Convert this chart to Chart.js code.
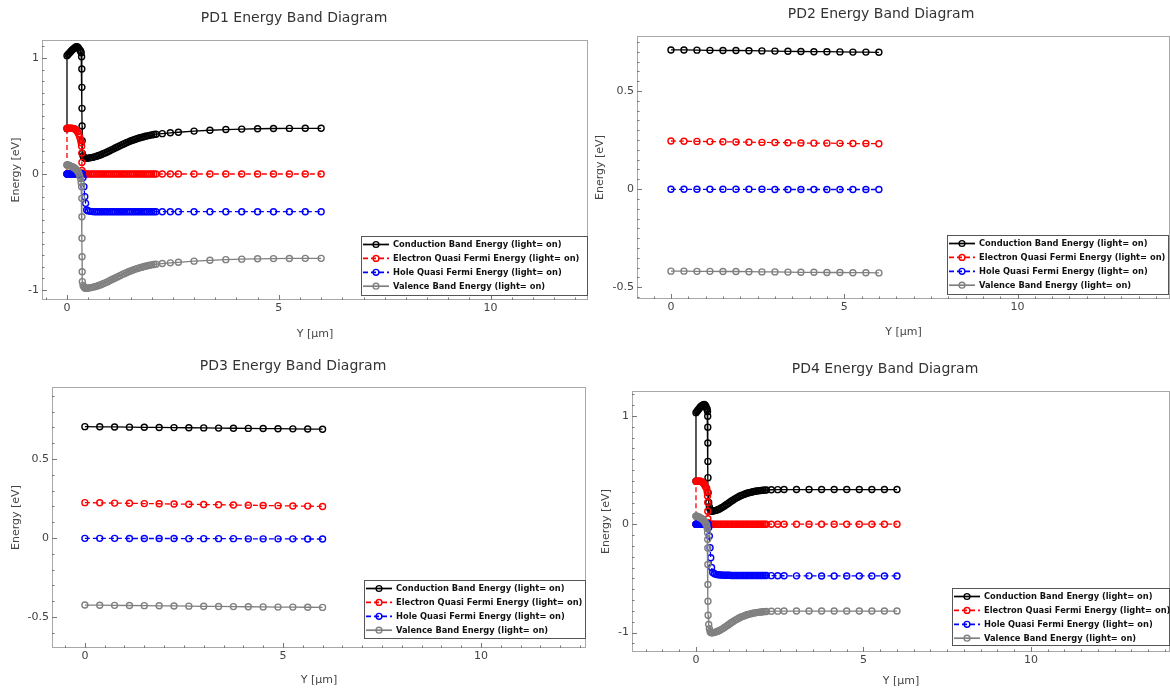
<!DOCTYPE html>
<html>
<head>
<meta charset="utf-8">
<title>PD Energy Band Diagrams</title>
<script src="https://cdn.jsdelivr.net/npm/chart.js@4.4.1/dist/chart.umd.min.js"></script>
<style>
  body { margin: 0; background: #fff; }
  #wrap { position: relative; width: 1170px; height: 688px; overflow: hidden; }
  canvas { position: absolute; }
</style>
</head>
<body>
<div id="wrap">
  <canvas id="pd1" width="592" height="344" style="left:0;top:0"></canvas>
  <canvas id="pd2" width="578" height="344" style="left:592px;top:0"></canvas>
  <canvas id="pd3" width="592" height="344" style="left:0;top:344px"></canvas>
  <canvas id="pd4" width="570" height="344" style="left:600px;top:344px"></canvas>
</div>
<script>
// ===== data =====
const seriesNames = [
  "Conduction Band Energy (light= on)",
  "Electron Quasi Fermi Energy (light= on)",
  "Hole Quasi Fermi Energy (light= on)",
  "Valence Band Energy (light= on)",
];

const xTickLabels = [0, 5, 10];
const yTickLabelsWide = [-1, 0, 1];
const yTickLabelsNarrow = [-0.5, 0, 0.5];

// mesh positions (um) for PD1 / PD4 (fine near the junction)
const meshY = [
  0, 0, 0.025, 0.05, 0.075, 0.1, 0.125, 0.15, 0.175, 0.2, 0.225, 0.25, 0.275, 0.3, 0.32, 0.335, 0.345,
  0.35, 0.352, 0.354, 0.356, 0.358, 0.362,
  0.38, 0.4, 0.42, 0.44, 0.465, 0.5, 0.55,
  0.6, 0.65, 0.7, 0.75, 0.8, 0.85, 0.9, 0.95, 1.0, 1.05, 1.1, 1.15, 1.2, 1.25, 1.3, 1.35,
  1.4, 1.45, 1.5, 1.55, 1.6, 1.65, 1.7, 1.75, 1.8, 1.85, 1.9, 1.95, 2.0, 2.05, 2.1,
  2.25, 2.44, 2.63, 3.0, 3.375, 3.75, 4.125, 4.5, 4.875, 5.25, 5.625, 6.0,
];

const pd1Ec = [
  0.39, 1.02, 1.03, 1.04, 1.05, 1.06, 1.07, 1.078, 1.085, 1.092, 1.097, 1.095, 1.085, 1.07, 1.06, 1.045, 1.01,
  0.905, 0.747, 0.566, 0.414, 0.287, 0.178,
  0.155, 0.142, 0.137, 0.135, 0.135, 0.137, 0.14,
  0.143, 0.148, 0.153, 0.159, 0.166, 0.174, 0.182, 0.19, 0.199, 0.208, 0.217, 0.226, 0.235, 0.244, 0.253, 0.261,
  0.269, 0.277, 0.284, 0.291, 0.298, 0.304, 0.31, 0.315, 0.32, 0.325, 0.329, 0.333, 0.337, 0.34, 0.343,
  0.348, 0.355, 0.36, 0.37, 0.377, 0.383, 0.387, 0.39, 0.392, 0.393, 0.394, 0.394,
];
const pd1Efn = [
  0, 0.394, 0.395, 0.395, 0.395, 0.394, 0.393, 0.392, 0.39, 0.385, 0.375, 0.362, 0.345, 0.32, 0.295, 0.27, 0.24,
  0.18, 0.1, 0.03, 0.01, 0.003, 0,
  0, 0, 0, 0, 0, 0, 0,
  0, 0, 0, 0, 0, 0, 0, 0, 0, 0, 0, 0, 0, 0, 0, 0,
  0, 0, 0, 0, 0, 0, 0, 0, 0, 0, 0, 0, 0, 0, 0,
  0, 0, 0, 0, 0, 0, 0, 0, 0, 0, 0, 0,
];
const pd1Efp = [
  0, 0, 0, 0, 0, 0, 0, 0, 0, 0, 0, 0, 0, 0, 0, 0, 0,
  0, 0, 0, 0, 0, -0.005,
  -0.03, -0.109, -0.195, -0.253, -0.31, -0.318, -0.322,
  -0.324, -0.325, -0.325, -0.325, -0.325, -0.325, -0.325, -0.325, -0.325, -0.325, -0.325, -0.325, -0.325, -0.325, -0.325, -0.325,
  -0.325, -0.325, -0.325, -0.325, -0.325, -0.325, -0.325, -0.325, -0.325, -0.325, -0.325, -0.325, -0.325, -0.325, -0.325,
  -0.325, -0.325, -0.325, -0.325, -0.325, -0.325, -0.325, -0.325, -0.325, -0.325, -0.325, -0.325,
];
const pd1Ev = [
  0.078, 0.078, 0.077, 0.074, 0.07, 0.066, 0.062, 0.058, 0.052, 0.045, 0.036, 0.025, 0.01, -0.015, -0.04, -0.075, -0.11,
  -0.21, -0.368, -0.554, -0.713, -0.842, -0.928,
  -0.96, -0.975, -0.982, -0.985, -0.985, -0.983, -0.98,
  -0.977, -0.972, -0.967, -0.961, -0.954, -0.946, -0.938, -0.93, -0.921, -0.912, -0.903, -0.894, -0.885, -0.876, -0.867, -0.859,
  -0.851, -0.843, -0.836, -0.829, -0.822, -0.816, -0.81, -0.805, -0.8, -0.795, -0.791, -0.787, -0.783, -0.78, -0.777,
  -0.772, -0.766, -0.761, -0.751, -0.744, -0.738, -0.734, -0.731, -0.729, -0.728, -0.727, -0.727,
];

const pd4Ec = [
  0.397, 1.03, 1.04, 1.05, 1.06, 1.07, 1.08, 1.088, 1.095, 1.1, 1.104, 1.105, 1.1, 1.085, 1.068, 1.06, 1.04,
  0.997, 0.896, 0.75, 0.58, 0.43, 0.29,
  0.2, 0.16, 0.135, 0.124, 0.12, 0.121, 0.124,
  0.128, 0.134, 0.141, 0.149, 0.158, 0.168, 0.179, 0.19, 0.201, 0.212, 0.222, 0.232, 0.241, 0.25, 0.258, 0.265,
  0.271, 0.277, 0.283, 0.288, 0.292, 0.296, 0.3, 0.303, 0.306, 0.308, 0.31, 0.312, 0.314, 0.315, 0.316,
  0.318, 0.319, 0.32, 0.32, 0.32, 0.32, 0.32, 0.32, 0.32, 0.32, 0.32, 0.32,
];
const pd4Efn = [
  0, 0.397, 0.398, 0.398, 0.398, 0.397, 0.396, 0.394, 0.391, 0.386, 0.378, 0.366, 0.352, 0.34, 0.33, 0.3, 0.26,
  0.2, 0.12, 0.05, 0.015, 0.005, 0.001,
  0, 0, 0, 0, 0, 0, 0,
  0, 0, 0, 0, 0, 0, 0, 0, 0, 0, 0, 0, 0, 0, 0, 0,
  0, 0, 0, 0, 0, 0, 0, 0, 0, 0, 0, 0, 0, 0, 0,
  0, 0, 0, 0, 0, 0, 0, 0, 0, 0, 0, 0,
];
const pd4Efp = [
  0, 0, 0, 0, 0, 0, 0, 0, 0, 0, 0, 0, 0, 0, 0, 0, 0,
  0, 0, 0, 0, 0, -0.005,
  -0.03, -0.11, -0.218, -0.31, -0.4, -0.445, -0.458,
  -0.463, -0.466, -0.468, -0.469, -0.47, -0.471, -0.471, -0.472, -0.472, -0.473, -0.473, -0.473, -0.473, -0.474, -0.474, -0.474,
  -0.474, -0.474, -0.474, -0.474, -0.474, -0.474, -0.474, -0.474, -0.474, -0.474, -0.474, -0.474, -0.474, -0.474, -0.474,
  -0.475, -0.476, -0.476, -0.477, -0.477, -0.478, -0.478, -0.478, -0.478, -0.478, -0.478, -0.478,
];
const pd4Ev = [
  0.074, 0.074, 0.073, 0.071, 0.068, 0.064, 0.06, 0.056, 0.05, 0.046, 0.04, 0.03, 0.016, 0.002, -0.01, -0.04, -0.08,
  -0.14, -0.22, -0.372, -0.557, -0.711, -0.84,
  -0.926, -0.965, -0.99, -1.0, -1.003, -1.002, -0.999,
  -0.994, -0.988, -0.981, -0.973, -0.964, -0.954, -0.943, -0.932, -0.921, -0.91, -0.9, -0.89, -0.881, -0.872, -0.864, -0.857,
  -0.851, -0.845, -0.839, -0.834, -0.83, -0.826, -0.822, -0.819, -0.816, -0.814, -0.812, -0.81, -0.808, -0.807, -0.806,
  -0.804, -0.803, -0.802, -0.802, -0.802, -0.802, -0.802, -0.802, -0.802, -0.802, -0.802, -0.802,
];

// coarse mesh for PD2 / PD3
const coarseY = [0, 0.375, 0.75, 1.125, 1.5, 1.875, 2.25, 2.625, 3.0, 3.375, 3.75, 4.125, 4.5, 4.875, 5.25, 5.625, 6.0];

const pd2Ec  = [0.709, 0.709, 0.708, 0.707, 0.706, 0.706, 0.705, 0.704, 0.703, 0.702, 0.701, 0.7, 0.7, 0.699, 0.698, 0.698, 0.697];
const pd2Efn = [0.245, 0.244, 0.243, 0.242, 0.241, 0.24, 0.239, 0.238, 0.237, 0.236, 0.235, 0.234, 0.234, 0.233, 0.232, 0.232, 0.231];
const pd2Efp = [-0.001, -0.001, -0.001, -0.001, -0.001, -0.001, -0.001, -0.001, -0.002, -0.002, -0.002, -0.002, -0.002, -0.002, -0.002, -0.002, -0.002];
const pd2Ev  = [-0.418, -0.418, -0.419, -0.419, -0.42, -0.42, -0.421, -0.422, -0.422, -0.423, -0.424, -0.424, -0.425, -0.425, -0.426, -0.426, -0.427];

const pd3Ec  = [0.705, 0.704, 0.703, 0.702, 0.701, 0.7, 0.699, 0.698, 0.697, 0.696, 0.695, 0.694, 0.693, 0.692, 0.691, 0.69, 0.689];
const pd3Efn = [0.224, 0.223, 0.221, 0.22, 0.218, 0.217, 0.215, 0.214, 0.212, 0.211, 0.209, 0.208, 0.206, 0.205, 0.203, 0.202, 0.2];
const pd3Efp = [-0.002, -0.002, -0.002, -0.003, -0.003, -0.003, -0.003, -0.004, -0.004, -0.004, -0.004, -0.005, -0.005, -0.005, -0.005, -0.006, -0.006];
const pd3Ev  = [-0.424, -0.425, -0.426, -0.427, -0.428, -0.429, -0.43, -0.431, -0.432, -0.433, -0.434, -0.435, -0.436, -0.437, -0.437, -0.438, -0.439];

// ===== styles =====
const seriesStyle = [
  { color: "#000000", dash: [] },
  { color: "#ff0000", dash: [5, 3] },
  { color: "#0000ff", dash: [5, 3] },
  { color: "#808080", dash: [] },
];

Chart.defaults.font.family = '"DejaVu Sans", sans-serif';

// returns the listed label if the tick value matches one of them
const pickLabel = (list, v) => {
  const hit = list.find((l) => Math.abs(l - v) < 1e-6);
  return hit === undefined ? "" : String(hit);
};

// frame, inward ticks and legend box
const bandDecor = {
  id: "bandDecor",
  afterDraw(chart, args, opts) {
    const { ctx, chartArea: a } = chart;
    const sx = chart.scales.x, sy = chart.scales.y;
    ctx.save();
    ctx.strokeStyle = "#a8a8a8";
    ctx.lineWidth = 1;
    ctx.strokeRect(a.left + 0.5, a.top + 0.5, a.right - a.left - 1, a.bottom - a.top - 1);

    ctx.strokeStyle = "#777";
    ctx.beginPath();
    sx.ticks.forEach((t) => {
      const p = Math.round(sx.getPixelForValue(t.value)) + 0.5;
      const len = t.label !== "" ? 5 : 2.5;
      ctx.moveTo(p, a.bottom);
      ctx.lineTo(p, a.bottom - len);
    });
    sy.ticks.forEach((t) => {
      const p = Math.round(sy.getPixelForValue(t.value)) + 0.5;
      const len = t.label !== "" ? 5 : 2.5;
      ctx.moveTo(a.left, p);
      ctx.lineTo(a.left + len, p);
    });
    ctx.stroke();

    // legend
    const L = opts;
    if (L && L.w) {
      ctx.fillStyle = "#fff";
      ctx.fillRect(L.x, L.y, L.w, L.h);
      ctx.strokeStyle = "#555";
      ctx.lineWidth = 1;
      ctx.strokeRect(L.x + 0.5, L.y + 0.5, L.w - 1, L.h - 1);
      ctx.font = 'bold 8.3px "DejaVu Sans"';
      ctx.textBaseline = "middle";
      chart.data.datasets.forEach((ds, i) => {
        const yy = L.y + 8.5 + i * 13.9;
        ctx.strokeStyle = ds.borderColor;
        ctx.lineWidth = 1.7;
        ctx.setLineDash(ds.borderDash);
        ctx.beginPath();
        ctx.moveTo(L.x + 2, yy);
        ctx.lineTo(L.x + 28, yy);
        ctx.stroke();
        ctx.setLineDash([]);
        ctx.lineWidth = 1.4;
        ctx.beginPath();
        ctx.arc(L.x + 15, yy, 2.9, 0, Math.PI * 2);
        ctx.stroke();
        ctx.fillStyle = "#111";
        ctx.fillText(ds.label, L.x + 32, yy + 0.5);
      });
    }
    ctx.restore();
  },
};

function makeSets(xs, cols) {
  return cols.map((ys, i) => ({
    label: seriesNames[i],
    data: xs.map((x, k) => ({ x: x, y: ys[k] })),
    borderColor: seriesStyle[i].color,
    borderDash: seriesStyle[i].dash,
    borderWidth: 1.3,
    pointRadius: 3,
    pointBorderWidth: 1.4,
    pointBorderColor: seriesStyle[i].color,
    pointBackgroundColor: "rgba(0,0,0,0)",
    tension: 0,
    order: 3 - i,
  }));
}

function drawPanel(p) {
  const L = p.lay;
  new Chart(document.getElementById(p.id), {
    type: "line",
    data: { datasets: makeSets(p.xs, p.cols) },
    options: {
      responsive: false,
      animation: false,
      events: [],
      layout: { autoPadding: false, padding: { left: 0, right: L.padR, top: 0, bottom: 0 } },
      plugins: {
        legend: { display: false },
        tooltip: { enabled: false },
        title: {
          display: true,
          text: p.title,
          color: "#333",
          font: { size: 14, weight: "normal" },
          padding: { top: L.titleTop, bottom: L.titleBot },
        },
        bandDecor: p.legend,
      },
      scales: {
        x: {
          type: "linear",
          min: p.xr[0],
          max: p.xr[1],
          grid: { display: false, drawTicks: false },
          border: { display: false },
          ticks: {
            stepSize: 0.5,
            includeBounds: false,
            autoSkip: false,
            maxRotation: 0,
            padding: 2,
            color: "#444",
            font: { size: 11 },
            callback: (v) => pickLabel(xTickLabels, v),
          },
          title: {
            display: true,
            text: "Y [µm]",
            color: "#444",
            font: { size: 11 },
            padding: { top: 0, bottom: L.xTitlePad },
          },
          afterFit: (s) => { s.height = L.xH; },
        },
        y: {
          type: "linear",
          min: p.yr[0],
          max: p.yr[1],
          grid: { display: false, drawTicks: false },
          border: { display: false },
          ticks: {
            stepSize: p.yStep,
            includeBounds: false,
            autoSkip: false,
            padding: 3,
            color: "#444",
            font: { size: 11 },
            callback: (v) => pickLabel(p.yLabels, v),
          },
          title: {
            display: true,
            text: "Energy [eV]",
            color: "#444",
            font: { size: 11 },
            padding: { top: L.yTitlePad, bottom: 0 },
          },
          afterFit: (s) => { s.width = L.yW; },
        },
      },
    },
    plugins: [bandDecor],
  });
}

const panels = [
  {
    id: "pd1", title: "PD1 Energy Band Diagram",
    xs: meshY, cols: [pd1Ec, pd1Efn, pd1Efp, pd1Ev],
    xr: [-0.59, 12.3], yr: [-1.086, 1.155], yStep: 0.1, yLabels: yTickLabelsWide,
    lay: { yW: 42, xH: 44, padR: 4, titleTop: 9.6, titleBot: 13.6, xTitlePad: 3.4, yTitlePad: 9.4 },
    legend: { x: 361, y: 236, w: 227, h: 60 },
  },
  {
    id: "pd2", title: "PD2 Energy Band Diagram",
    xs: coarseY, cols: [pd2Ec, pd2Efn, pd2Efp, pd2Ev],
    xr: [-0.98, 14.4], yr: [-0.56, 0.78], yStep: 0.05, yLabels: yTickLabelsNarrow,
    lay: { yW: 45, xH: 45, padR: 0, titleTop: 5.6, titleBot: 13.6, xTitlePad: 5.7, yTitlePad: 1.4 },
    legend: { x: 355, y: 235, w: 222, h: 60 },
  },
  {
    id: "pd3", title: "PD3 Energy Band Diagram",
    xs: coarseY, cols: [pd3Ec, pd3Efn, pd3Efp, pd3Ev],
    xr: [-0.83, 12.65], yr: [-0.696, 0.956], yStep: 0.1, yLabels: yTickLabelsNarrow,
    lay: { yW: 52, xH: 40, padR: 6, titleTop: 13.6, titleBot: 12.6, xTitlePad: 1.4, yTitlePad: 9.4 },
    legend: { x: 364, y: 236, w: 222, h: 59 },
  },
  {
    id: "pd4", title: "PD4 Energy Band Diagram",
    xs: meshY, cols: [pd4Ec, pd4Efn, pd4Efp, pd4Ev],
    xr: [-1.91, 14.15], yr: [-1.18, 1.23], yStep: 0.1, yLabels: yTickLabelsWide,
    lay: { yW: 32, xH: 36, padR: 0, titleTop: 16.6, titleBot: 13.6, xTitlePad: 0, yTitlePad: 0 },
    legend: { x: 352, y: 244, w: 218, h: 58 },
  },
];

panels.forEach(drawPanel);
</script>
</body>
</html>
